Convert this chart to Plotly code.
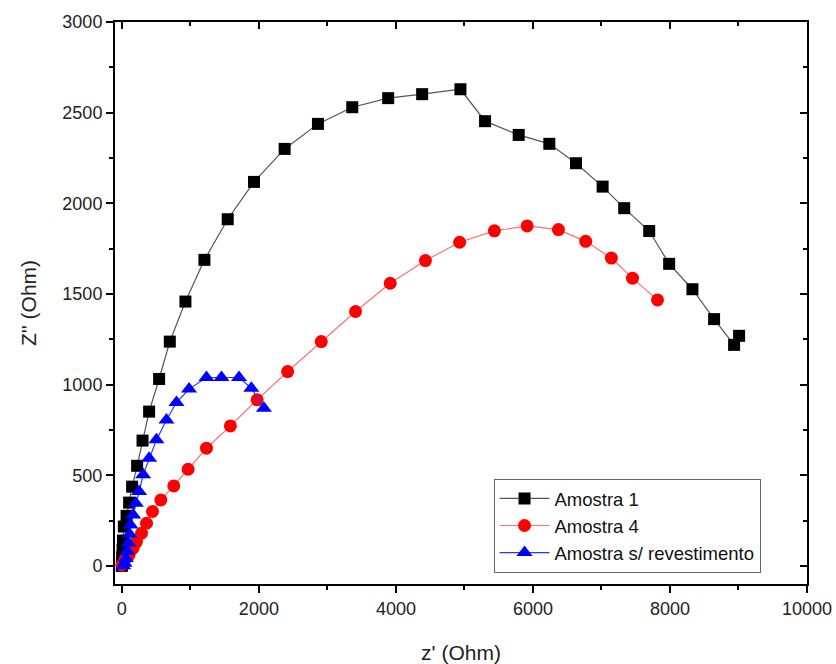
import plotly.graph_objects as go

# Amostra 1 (black squares)
a1_x = [0, 3, 6, 10, 16, 29, 69, 106, 150, 223, 302, 398, 544, 700, 928, 1205, 1545, 1929,
        2376, 2862, 3363, 3887, 4383, 4942, 5301, 5792, 6239, 6628, 7017, 7332, 7697, 7988,
        8328, 8644, 8936, 9009]
a1_y = [0, 20, 50, 90, 140, 217, 276, 349, 437, 552, 691, 851, 1031, 1237, 1458, 1688, 1912, 2118,
        2300, 2438, 2530, 2580, 2602, 2629, 2453, 2377, 2328, 2221, 2092, 1973, 1847, 1666,
        1526, 1361, 1219, 1269]

# Amostra 4 (red circles)
a4_x = [0, 44, 106, 165, 214, 287, 360, 447, 569, 758, 967, 1235, 1584, 1975, 2420, 2911,
        3411, 3917, 4431, 4930, 5437, 5915, 6372, 6770, 7145, 7453, 7818]
a4_y = [5, 33, 61, 98, 134, 180, 235, 300, 364, 441, 533, 649, 772, 916, 1072, 1237,
        1403, 1559, 1684, 1785, 1848, 1875, 1855, 1790, 1698, 1587, 1467]

# Amostra s/ revestimento (blue triangles)
as_x = [20, 40, 60, 80, 100, 115, 127, 165, 204, 252, 311, 398, 505, 651, 797, 981,
        1235, 1454, 1710, 1890, 2074]
as_y = [0, 15, 40, 80, 125, 175, 226, 281, 346, 410, 502, 594, 695, 805, 901, 975,
        1039, 1039, 1039, 980, 870]

x_ticks = [0, 2000, 4000, 6000, 8000, 10000]
x_ticktext = ["0", "2000", "4000", "6000", "8000", "10000"]
y_ticks = [0, 500, 1000, 1500, 2000, 2500, 3000]
y_ticktext = ["0", "500", "1000", "1500", "2000", "2500", "3000"]

fig = go.Figure()
fig.add_trace(go.Scatter(x=a1_x, y=a1_y, mode="lines+markers", name="Amostra 1",
                         line=dict(color="#555555", width=1.2),
                         marker=dict(symbol="square", size=12, color="black")))
fig.add_trace(go.Scatter(x=a4_x, y=a4_y, mode="lines+markers", name="Amostra 4",
                         line=dict(color="#ff7070", width=1.2),
                         marker=dict(symbol="circle", size=13, color="#ff0000")))
fig.add_trace(go.Scatter(x=as_x, y=as_y, mode="lines+markers", name="Amostra s/ revestimento",
                         line=dict(color="#3333ff", width=1.2),
                         marker=dict(symbol="triangle-up", size=14, color="#0000ff")))
# helper trace to activate mirrored (top/right) axes
fig.add_trace(go.Scatter(x=[None], y=[None], xaxis="x2", yaxis="y2", showlegend=False,
                         hoverinfo="skip", mode="markers"))

font = "Liberation Sans, Arial, sans-serif"
xr = [-100, 10000]
yr = [-100, 3000]

fig.update_layout(
    width=836, height=664,
    margin=dict(l=115, r=29, t=22, b=80),
    paper_bgcolor="white", plot_bgcolor="white",
    font=dict(family=font, color="#222222", size=18),
    showlegend=True,
    legend=dict(x=0.547, y=0.187, xanchor="left", yanchor="top",
                bgcolor="white", bordercolor="#666666", borderwidth=1,
                font=dict(size=18.5, family=font, color="#111111"),
                itemwidth=50, tracegroupgap=0),
    xaxis=dict(range=xr, tickvals=x_ticks, ticktext=x_ticktext, ticks="outside", ticklen=7,
               tickwidth=2, tickcolor="black", showline=True, linewidth=2, linecolor="black",
               showgrid=False, zeroline=False, automargin=False,
               minor=dict(dtick=1000, tick0=0, ticks="outside", ticklen=4, tickwidth=2,
                          tickcolor="black", showgrid=False),
               title=dict(text="z' (Ohm)", font=dict(size=21), standoff=28),
               tickfont=dict(size=18)),
    yaxis=dict(range=yr, tickvals=y_ticks, ticktext=y_ticktext, ticks="outside", ticklen=7,
               tickwidth=2, tickcolor="black", showline=True, linewidth=2, linecolor="black",
               showgrid=False, zeroline=False, automargin=False,
               minor=dict(dtick=250, tick0=0, ticks="outside", ticklen=4, tickwidth=2,
                          tickcolor="black", showgrid=False),
               title=dict(text="Z'' (Ohm)", font=dict(size=21), standoff=20),
               tickfont=dict(size=18)),
    xaxis2=dict(range=xr, overlaying="x", side="top", anchor="y2", tickvals=x_ticks,
                ticks="inside", ticklen=7, tickwidth=2, tickcolor="black",
                showticklabels=False, showline=True, linewidth=2, linecolor="black",
                showgrid=False, zeroline=False, automargin=False,
                minor=dict(dtick=1000, tick0=0, ticks="inside", ticklen=4, tickwidth=2,
                           tickcolor="black", showgrid=False)),
    yaxis2=dict(range=yr, overlaying="y", side="right", anchor="x2", tickvals=y_ticks,
                ticks="inside", ticklen=7, tickwidth=2, tickcolor="black",
                showticklabels=False, showline=True, linewidth=2, linecolor="black",
                showgrid=False, zeroline=False, automargin=False,
                minor=dict(dtick=250, tick0=0, ticks="inside", ticklen=4, tickwidth=2,
                           tickcolor="black", showgrid=False)),
)

fig.write_html("out.html")
